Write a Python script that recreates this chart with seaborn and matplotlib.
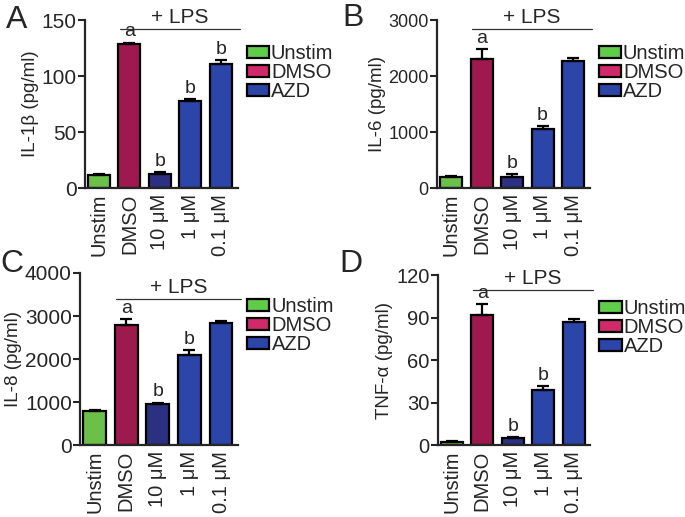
import numpy as np
import pandas as pd
import matplotlib
matplotlib.use('Agg')
import matplotlib.pyplot as plt
import seaborn as sns
from matplotlib.patches import Patch

conditions = ['Unstim', 'DMSO', '10 μM', '1 μM', '0.1 μM']
bar_colors = ['#6cc04a', '#9e1a4e', '#2b3080', '#2b45a8', '#2b45a8']
legend_labels = ['Unstim', 'DMSO', 'AZD']
legend_colors = ['#5fcc4a', '#d02a6a', '#2b45a8']

il1b = [12, 129, 13, 78, 110.5]
il1b_err = [0.8, 1.0, 1.2, 1.2, 3.8]
il6 = [200, 2300, 200, 1050, 2270]
il6_err = [15, 180, 50, 60, 50]
il8 = [800, 2800, 960, 2090, 2840]
il8_err = [25, 130, 30, 110, 40]
tnf = [2.5, 92, 5, 39, 87]
tnf_err = [0.5, 7.5, 1.0, 2.5, 1.8]

il1b_letters = ['', 'a', 'b', 'b', 'b']
il6_letters = ['', 'a', 'b', 'b', '']
il8_letters = ['', 'a', 'b', 'b', '']
tnf_letters = ['', 'a', 'b', 'b', '']

panels = [
    ('A', 'IL-1β (pg/ml)', il1b, il1b_err, il1b_letters, [0, 50, 100, 150]),
    ('B', 'IL-6 (pg/ml)', il6, il6_err, il6_letters, [0, 1000, 2000, 3000]),
    ('C', 'IL-8 (pg/ml)', il8, il8_err, il8_letters, [0, 1000, 2000, 3000, 4000]),
    ('D', 'TNF-α (pg/ml)', tnf, tnf_err, tnf_letters, [0, 30, 60, 90, 120]),
]

sns.set_style('ticks')
plt.rcParams['font.family'] = ['Liberation Sans', 'DejaVu Sans']

fig = plt.figure(figsize=(6.85, 5.17), dpi=100)

# axes rectangles, "+ LPS" line height (axes fraction), y tick size per panel
rects = [
    [0.124, 0.636, 0.223, 0.325],
    [0.638, 0.636, 0.223, 0.325],
    [0.117, 0.139, 0.231, 0.333],
    [0.639, 0.139, 0.223, 0.329],
]
lps_y = [0.946, 0.946, 0.85, 0.91]
ytick_size = [15, 13, 15, 14.5]
letter_pos = [(0.025, 0.962), (0.515, 0.965), (0.018, 0.49), (0.512, 0.49)]

for i, (tag, ylabel, vals, errs, letters, ticks) in enumerate(panels):
    ax = fig.add_axes(rects[i])
    df = pd.DataFrame({'cond': conditions, 'val': vals})
    sns.barplot(data=df, x='cond', y='val', hue='cond', palette=bar_colors,
                order=conditions, hue_order=conditions, legend=False,
                saturation=1, edgecolor='black', linewidth=1.6, width=0.72, ax=ax)
    ax.errorbar(range(len(vals)), vals, yerr=[np.zeros(len(errs)), errs],
                fmt='none', ecolor='black', elinewidth=1.6, capsize=4,
                capthick=1.6, zorder=1)
    for x, (v, e, lt) in enumerate(zip(vals, errs, letters)):
        if lt:
            ax.annotate(lt, (x, v + e), xytext=(0, 1.5), textcoords='offset points',
                        ha='center', va='bottom', fontsize=14)
    ax.set_xlim(-0.46, 4.55)
    ax.set_ylim(0, ticks[-1])
    ax.set_yticks(ticks)
    ax.set_xlabel('')
    ax.set_ylabel(ylabel, fontsize=13.5, labelpad=2)
    ax.tick_params(axis='y', labelsize=ytick_size[i], width=1.5, length=5, pad=1)
    ax.tick_params(axis='x', labelsize=14.5, length=0, pad=4, labelrotation=90)
    sns.despine(ax=ax)
    for s in ['left', 'bottom']:
        ax.spines[s].set_linewidth(1.6)

    # "+ LPS" bracket line
    tr = ax.get_xaxis_transform()
    ax.plot([0.69, 4.62], [lps_y[i], lps_y[i]], color='#333333', lw=0.9,
            transform=tr, clip_on=False)
    ax.text(2.65, lps_y[i] + 0.012, '+ LPS', transform=tr, ha='center',
            va='bottom', fontsize=15)

    handles = [Patch(facecolor=c, edgecolor='black', linewidth=1.6) for c in legend_colors]
    ax.legend(handles, legend_labels, loc='upper left', bbox_to_anchor=(0.98, 0.93),
              frameon=False, fontsize=14.5, handlelength=1.1, handleheight=0.55,
              handletextpad=0.1, labelspacing=0.0, borderaxespad=0.2)

    fig.text(letter_pos[i][0], letter_pos[i][1], tag, fontsize=23,
             ha='center', va='center')

fig.savefig('out.png', dpi=100)
